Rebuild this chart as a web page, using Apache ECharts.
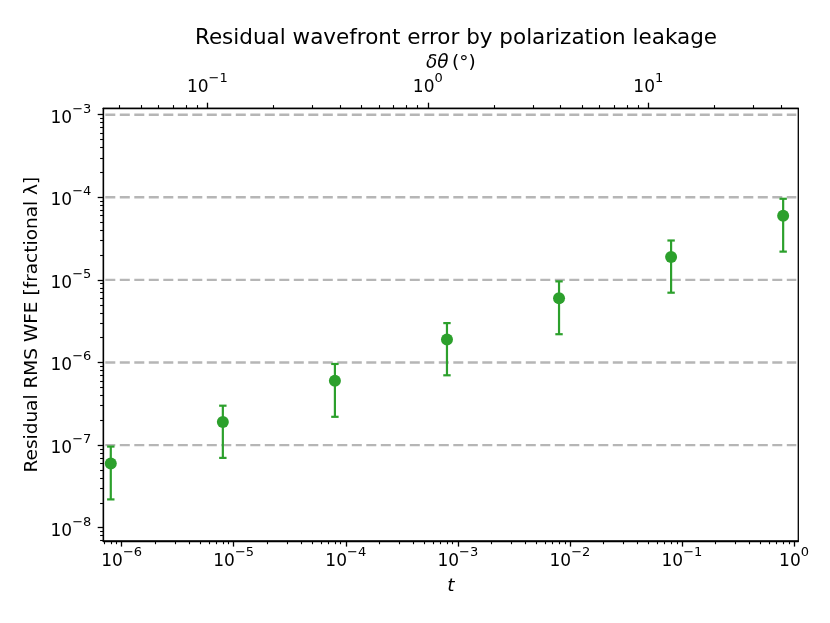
<!DOCTYPE html>
<html>
<head>
<meta charset="utf-8">
<script src="https://cdn.jsdelivr.net/npm/echarts@6/dist/echarts.min.js"></script>
<style>html,body{margin:0;padding:0;background:#fff}#main{width:830px;height:623px}</style>
</head>
<body>
<div id="main"></div>
<script>
// data
var tValues = [8e-7, 8e-6, 8e-5, 8e-4, 8e-3, 8e-2, 8e-1];
var wfe = [6e-8, 1.9e-7, 6e-7, 1.9e-6, 6e-6, 1.9e-5, 6e-5];
var wfeLow = [2.2e-8, 7e-8, 2.2e-7, 7e-7, 2.2e-6, 7e-6, 2.2e-5];
var wfeHigh = [9.6e-8, 3.0e-7, 9.6e-7, 3.0e-6, 9.6e-6, 3.0e-5, 9.6e-5];

// axes
var tTicks = [1e-6, 1e-5, 1e-4, 1e-3, 1e-2, 1e-1, 1];
var thetaTicks = [0.1, 1, 10];
var wfeTicks = [1e-8, 1e-7, 1e-6, 1e-5, 1e-4, 1e-3];
var gridLevels = [1e-7, 1e-6, 1e-5, 1e-4, 1e-3];
var tRange = [6.86e-7, 1.092];
var thetaRange = [0.03375, 47.9];
var wfeRange = [6.9e-9, 1.196e-3];

var FONT = 'DejaVu Sans';
var GREEN = '#2ca02c';

function minorTicks(range) {
    var out = [];
    var lo = Math.floor(Math.log10(range[0])), hi = Math.ceil(Math.log10(range[1]));
    for (var e = lo; e <= hi; e++) {
        for (var k = 2; k <= 9; k++) {
            var v = k * Math.pow(10, e);
            if (v >= range[0] && v <= range[1]) out.push(v);
        }
    }
    return out;
}

function powLabel(v) {
    var e = Math.round(Math.log10(v));
    return '{b|10}{s|' + (e < 0 ? '\u2212' + (-e) : e) + '}';
}

var labelRich = {
    b: {fontSize: 17, fontFamily: FONT, color: '#000', lineHeight: 24, verticalAlign: 'bottom'},
    s: {fontSize: 13, fontFamily: FONT, color: '#000', lineHeight: 14, verticalAlign: 'top'}
};

function majorAxis(pos, range, ticks, margin, extra) {
    var a = {
        type: 'log', position: pos, min: range[0], max: range[1],
        axisLine: {show: true, lineStyle: {color: '#000', width: 1.3}},
        axisTick: {show: true, inside: false, length: 5.6, customValues: ticks, lineStyle: {color: '#000', width: 1.3}},
        axisLabel: {show: true, customValues: ticks, formatter: powLabel, rich: labelRich, margin: margin},
        splitLine: {show: false}, minorTick: {show: false}
    };
    for (var key in extra) a[key] = extra[key];
    return a;
}

function minorAxis(pos, range) {
    return {
        type: 'log', position: pos, min: range[0], max: range[1],
        axisLine: {show: false},
        axisTick: {show: true, inside: false, length: 3.2, customValues: minorTicks(range), lineStyle: {color: '#000', width: 1.1}},
        axisLabel: {show: false},
        splitLine: {show: false}
    };
}

var chartDom = document.getElementById('main');
var myChart = echarts.init(chartDom, null, {renderer: 'canvas'});

var option = {
    animation: false,
    title: {
        text: 'Residual wavefront error by polarization leakage',
        left: 451, top: 22, textAlign: 'center',
        textStyle: {fontFamily: FONT, fontSize: 21.5, fontWeight: 'normal', color: '#000'}
    },
    grid: {left: 103.3, right: 31.7, top: 108.3, bottom: 82, show: true, borderColor: '#000', borderWidth: 1.3, backgroundColor: '#fff'},
    xAxis: [
        majorAxis('bottom', tRange, tTicks, 5, {
            name: 't', nameLocation: 'middle', nameGap: 36, nameMoveOverlap: false,
            nameTextStyle: {fontFamily: FONT, fontSize: 18.5, fontStyle: 'italic', color: '#000'}
        }),
        majorAxis('top', thetaRange, thetaTicks, 12, {
            name: '{i|\u03b4\u03b8} {n|(\u00b0)}', nameLocation: 'middle', nameGap: 36, nameMoveOverlap: false,
            nameTextStyle: {
                rich: {
                    i: {fontFamily: FONT, fontSize: 18.5, fontStyle: 'italic', color: '#000'},
                    n: {fontFamily: FONT, fontSize: 18.5, color: '#000'}
                }
            }
        }),
        minorAxis('bottom', tRange),
        minorAxis('top', thetaRange)
    ],
    yAxis: [
        majorAxis('left', wfeRange, wfeTicks, 12, {
            name: 'Residual RMS WFE [fractional \u03bb]', nameLocation: 'middle', nameGap: 62, nameMoveOverlap: false,
            nameTextStyle: {fontFamily: FONT, fontSize: 18.5, color: '#000'}
        }),
        minorAxis('left', wfeRange)
    ],
    series: [
        {
            // dashed reference lines at each decade
            type: 'custom',
            xAxisIndex: 0, yAxisIndex: 0,
            data: gridLevels.map(function (v) { return [tRange[0], v]; }),
            encode: {x: 0, y: 1},
            silent: true,
            renderItem: function (params, api) {
                var cs = params.coordSys;
                var y = api.coord([api.value(0), api.value(1)])[1];
                return {
                    type: 'line',
                    shape: {x1: cs.x + 2, y1: y, x2: cs.x + cs.width - 2, y2: y},
                    style: {stroke: '#b6b6b6', lineWidth: 2.4, lineDash: [10, 4.5]}
                };
            },
            z: 1
        },
        {
            type: 'custom',
            xAxisIndex: 0, yAxisIndex: 0,
            data: tValues.map(function (t, i) { return [t, wfeLow[i], wfeHigh[i]]; }),
            encode: {x: 0, y: [1, 2]},
            renderItem: function (params, api) {
                var lo = api.coord([api.value(0), api.value(1)]);
                var hi = api.coord([api.value(0), api.value(2)]);
                var cap = 3.7;
                var st = {stroke: GREEN, lineWidth: 2.2};
                return {
                    type: 'group',
                    children: [
                        {type: 'line', shape: {x1: lo[0], y1: lo[1], x2: hi[0], y2: hi[1]}, style: st},
                        {type: 'line', shape: {x1: lo[0] - cap, y1: lo[1], x2: lo[0] + cap, y2: lo[1]}, style: st},
                        {type: 'line', shape: {x1: hi[0] - cap, y1: hi[1], x2: hi[0] + cap, y2: hi[1]}, style: st}
                    ]
                };
            },
            z: 3
        },
        {
            type: 'scatter',
            xAxisIndex: 0, yAxisIndex: 0,
            data: tValues.map(function (t, i) { return [t, wfe[i]]; }),
            symbol: 'circle', symbolSize: 12,
            itemStyle: {color: GREEN, opacity: 1},
            z: 4
        }
    ]
};

myChart.setOption(option);
</script>
</body>
</html>
